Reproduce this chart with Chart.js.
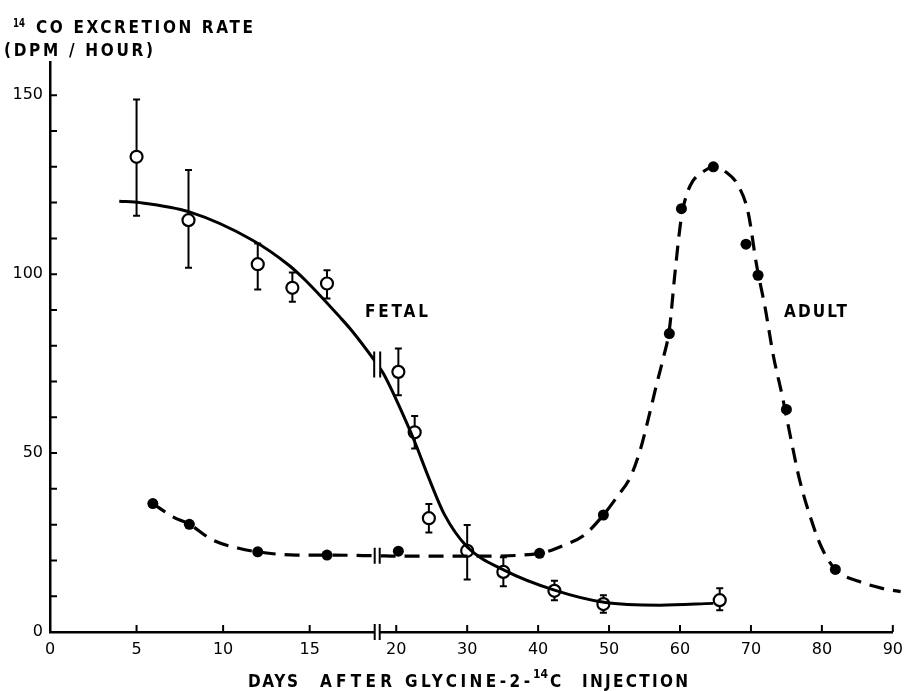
<!DOCTYPE html>
<html>
<head>
<meta charset="utf-8">
<script src="https://cdn.jsdelivr.net/npm/chart.js@4.4.0/dist/chart.umd.min.js"></script>
<style>
  html, body { margin: 0; padding: 0; background: #fff; }
  #wrap { width: 911px; height: 691px; }
</style>
</head>
<body>
<div id="wrap"><canvas id="grafico" width="911" height="691"></canvas></div>
<script>
// fetal (open circles, mean with range)
var fetalDay  = [5, 8, 12, 14, 16, 20.3, 22.6, 24.6, 30, 35.1, 42.3, 49.2, 65.6];
var fetalRate = [132.8, 115.1, 102.8, 96.2, 97.4, 72.7, 55.8, 31.8, 22.7, 16.8, 11.5, 7.8, 8.9];
var fetalHigh = [148.8, 129.1, 108.6, 100.5, 101.1, 79.2, 60.4, 35.8, 29.9, 20.9, 14.3, 10.3, 12.2];
var fetalLow  = [116.3, 101.8, 95.7, 92.3, 93.2, 66.2, 51.3, 27.8, 14.7, 12.8, 8.9, 5.4, 6.1];

// adult (filled dots)
var adultDay  = [5.94, 8.05, 12, 16, 20.3, 40.2, 49.2, 58.5, 60.2, 64.7, 69.3, 71, 75, 81.9, 91.1];
var adultRate = [35.9, 30.1, 22.4, 21.5, 22.6, 22.0, 32.7, 83.4, 118.3, 130.0, 108.4, 99.7, 62.2, 17.5, 11.3];

// fitted curves as drawn
var fetalFitDay  = [4.0, 5.2, 8.05, 11.7, 13.8, 14.75, 16.8, 17.4, 18.8, 19.25, 21.7, 22.8, 24.5, 26.8, 30.0, 35.2, 42.3, 49.3, 57.2, 64.7];
var fetalFitRate = [120.4, 120.0, 117.4, 109.5, 102.5, 98.3, 87.7, 84.4, 75.5, 72.3, 57.4, 52.2, 43.5, 32.8, 23.8, 17.3, 11.7, 8.3, 7.5, 8.0];

var adultFitDay  = [5.94, 7.1, 8.05, 9.4, 10.9, 12.0, 14.2, 16.0, 18.9, 20.3, 31.5, 40.2, 43.7, 46.5, 49.2, 51.1, 53.0, 54.4, 55.6, 56.7, 57.7, 58.5, 59.3, 60.2, 60.9, 61.8, 63.3, 64.7, 66.5, 68.2, 69.6, 70.8, 72.0, 73.2, 74.4, 75.6, 76.8, 78.2, 79.9, 81.9, 85.3, 88.5, 91.1];
var adultFitRate = [35.9, 32.2, 30.1, 25.7, 23.4, 22.4, 21.5, 21.5, 21.3, 21.2, 21.2, 22.0, 24.3, 27.1, 32.7, 37.7, 43.3, 50.9, 60.1, 69.2, 77.0, 84.5, 100.5, 116.0, 122.0, 126.0, 128.7, 130.0, 128.5, 124.8, 117.3, 102.5, 90.6, 76.8, 66.1, 54.3, 43.0, 33.2, 23.9, 17.5, 14.1, 12.2, 11.3];

var xTickDays = [0, 5, 10, 15, 20, 30, 40, 50, 60, 70, 80, 90];
var yTickValues = [0, 10, 20, 30, 40, 50, 60, 70, 80, 90, 100, 110, 120, 130, 140, 150];
var yLabelValues = [0, 50, 100, 150];
var BREAK_DAY = 18.9;

var FONT = "'DejaVu Sans', sans-serif";

// the axis is broken: days above 20 are compressed
var K = 7.13 / 17.4;
function toV(d) { return d <= 20 ? d : 20 + (d - 20) * K; }

function pontos(xs, ys) {
    return xs.map(function (d, i) { return { x: toV(d), y: ys[i] }; });
}

// narrow lettering stretched over [x0, x1]
function fitText(ctx, str, x0, x1, baseline, size, sx) {
    ctx.save();
    ctx.font = 'bold ' + size + 'px ' + FONT;
    ctx.letterSpacing = '0px';
    var w = ctx.measureText(str).width;
    var W = x1 - x0;
    var n = str.length;
    var esc = Math.min(sx, W / w);
    var s = n > 1 ? (W / esc - w) / (n - 1) : 0;
    ctx.translate(x0, baseline);
    ctx.scale(esc, 1);
    ctx.letterSpacing = s + 'px';
    ctx.textAlign = 'left';
    ctx.textBaseline = 'alphabetic';
    ctx.fillText(str, 0, 0);
    ctx.restore();
}

var errorBars = {
    id: 'errorBars',
    beforeDatasetDraw: function (chart, args) {
        if (args.index !== 3) return;
        var ctx = chart.ctx, xs = chart.scales.x, ys = chart.scales.y;
        ctx.save();
        ctx.strokeStyle = '#000';
        ctx.lineWidth = 2;
        for (var i = 0; i < fetalDay.length; i++) {
            var x = xs.getPixelForValue(toV(fetalDay[i]));
            var yh = ys.getPixelForValue(fetalHigh[i]);
            var yl = ys.getPixelForValue(fetalLow[i]);
            ctx.beginPath();
            ctx.moveTo(x, yh); ctx.lineTo(x, yl);
            ctx.moveTo(x - 3.5, yh); ctx.lineTo(x + 3.5, yh);
            ctx.moveTo(x - 3.5, yl); ctx.lineTo(x + 3.5, yl);
            ctx.stroke();
        }
        ctx.restore();
    }
};

var axisMarks = {
    id: 'axisMarks',
    afterDatasetsDraw: function (chart) {
        var ctx = chart.ctx, xs = chart.scales.x, ys = chart.scales.y, area = chart.chartArea;
        ctx.save();
        ctx.strokeStyle = '#000';
        ctx.lineWidth = 2;
        // tick marks pointing inwards
        ctx.beginPath();
        yTickValues.forEach(function (v) {
            var y = ys.getPixelForValue(v);
            ctx.moveTo(area.left, y); ctx.lineTo(area.left + 7, y);
        });
        xTickDays.forEach(function (d) {
            var x = xs.getPixelForValue(toV(d));
            ctx.moveTo(x, area.bottom); ctx.lineTo(x, area.bottom - 7);
        });
        ctx.stroke();

        // break marks
        var xb = xs.getPixelForValue(toV(BREAK_DAY));
        function quebra(y, half, gap) {
            ctx.fillStyle = '#fff';
            ctx.fillRect(xb - gap / 2, y - half + 2, gap, half * 2 - 4);
            ctx.beginPath();
            ctx.moveTo(xb - gap / 2, y - half); ctx.lineTo(xb - gap / 2, y + half);
            ctx.moveTo(xb + gap / 2, y - half); ctx.lineTo(xb + gap / 2, y + half);
            ctx.stroke();
        }
        function yNaCurva(idx) {
            var pts = chart.getDatasetMeta(idx).data;
            for (var i = 0; i < pts.length - 1; i++) {
                if (pts[i].x <= xb && pts[i + 1].x > xb) {
                    var t = (xb - pts[i].x) / (pts[i + 1].x - pts[i].x);
                    return pts[i].y + t * (pts[i + 1].y - pts[i].y);
                }
            }
            return null;
        }
        quebra(area.bottom, 8, 5);
        quebra(yNaCurva(0), 13, 6);
        quebra(yNaCurva(1), 8, 5);
        ctx.restore();
    },
    afterDraw: function (chart) {
        var ctx = chart.ctx;
        ctx.save();
        ctx.fillStyle = '#000';
        fitText(ctx, '14', 13, 25, 27, 12, 0.9);
        fitText(ctx, 'CO EXCRETION RATE', 36, 253, 33, 17, 0.9);
        fitText(ctx, '(DPM / HOUR)', 4, 153, 56, 17, 0.9);
        fitText(ctx, 'FETAL', 365, 428, 317, 17, 0.9);
        fitText(ctx, 'ADULT', 784, 847, 317, 17, 0.9);
        fitText(ctx, 'DAYS', 248, 298, 687, 17, 0.9);
        fitText(ctx, 'AFTER', 320, 392, 687, 17, 0.9);
        fitText(ctx, 'GLYCINE-2-', 405, 530, 687, 17, 0.9);
        fitText(ctx, '14', 533, 548, 678, 12, 0.9);
        fitText(ctx, 'C', 550, 565, 687, 17, 0.9);
        fitText(ctx, 'INJECTION', 582, 688, 687, 17, 0.9);
        ctx.restore();
    }
};

var config = {
    type: 'line',
    data: {
        datasets: [
            {
                label: 'fetal fit',
                data: pontos(fetalFitDay, fetalFitRate),
                borderColor: '#000',
                borderWidth: 3,
                pointRadius: 0,
                cubicInterpolationMode: 'monotone',
                fill: false
            },
            {
                label: 'adult fit',
                data: pontos(adultFitDay, adultFitRate),
                borderColor: '#000',
                borderWidth: 3.2,
                borderDash: [15, 9],
                pointRadius: 0,
                cubicInterpolationMode: 'monotone',
                fill: false,
                clip: false
            },
            {
                label: 'ADULT',
                data: pontos(adultDay, adultRate),
                showLine: false,
                pointRadius: 5.5,
                pointBackgroundColor: '#000',
                pointBorderColor: '#000',
                pointBorderWidth: 0,
                clip: false
            },
            {
                label: 'FETAL',
                data: pontos(fetalDay, fetalRate),
                showLine: false,
                pointRadius: 6,
                pointBackgroundColor: '#fff',
                pointBorderColor: '#000',
                pointBorderWidth: 2.2
            }
        ]
    },
    options: {
        responsive: false,
        animation: false,
        events: [],
        layout: { padding: { left: 0, right: 14, top: 62, bottom: 0 } },
        plugins: { legend: { display: false }, tooltip: { enabled: false } },
        scales: {
            x: {
                type: 'linear',
                min: 0,
                max: toV(90),
                grid: { display: false, drawTicks: false },
                border: { display: true, color: '#000', width: 2.5 },
                afterFit: function (scale) { scale.height = 59; },
                afterBuildTicks: function (scale) {
                    scale.ticks = xTickDays.map(function (d) { return { value: toV(d) }; });
                },
                ticks: {
                    autoSkip: false,
                    maxRotation: 0,
                    padding: 8,
                    color: '#000',
                    font: { family: FONT, size: 16 },
                    callback: function (v, i) { return String(xTickDays[i]); }
                }
            },
            y: {
                type: 'linear',
                min: 0,
                max: 159.3,
                grid: { display: false, drawTicks: false },
                border: { display: true, color: '#000', width: 2.5 },
                afterFit: function (scale) { scale.width = 50; },
                afterBuildTicks: function (scale) {
                    scale.ticks = yTickValues.map(function (v) { return { value: v }; });
                },
                ticks: {
                    autoSkip: false,
                    padding: 7,
                    color: '#000',
                    font: { family: FONT, size: 16 },
                    callback: function (v) { return yLabelValues.indexOf(v) >= 0 ? String(v) : ''; }
                }
            }
        }
    },
    plugins: [errorBars, axisMarks]
};

var grafico = new Chart(document.getElementById('grafico'), config);
</script>
</body>
</html>
